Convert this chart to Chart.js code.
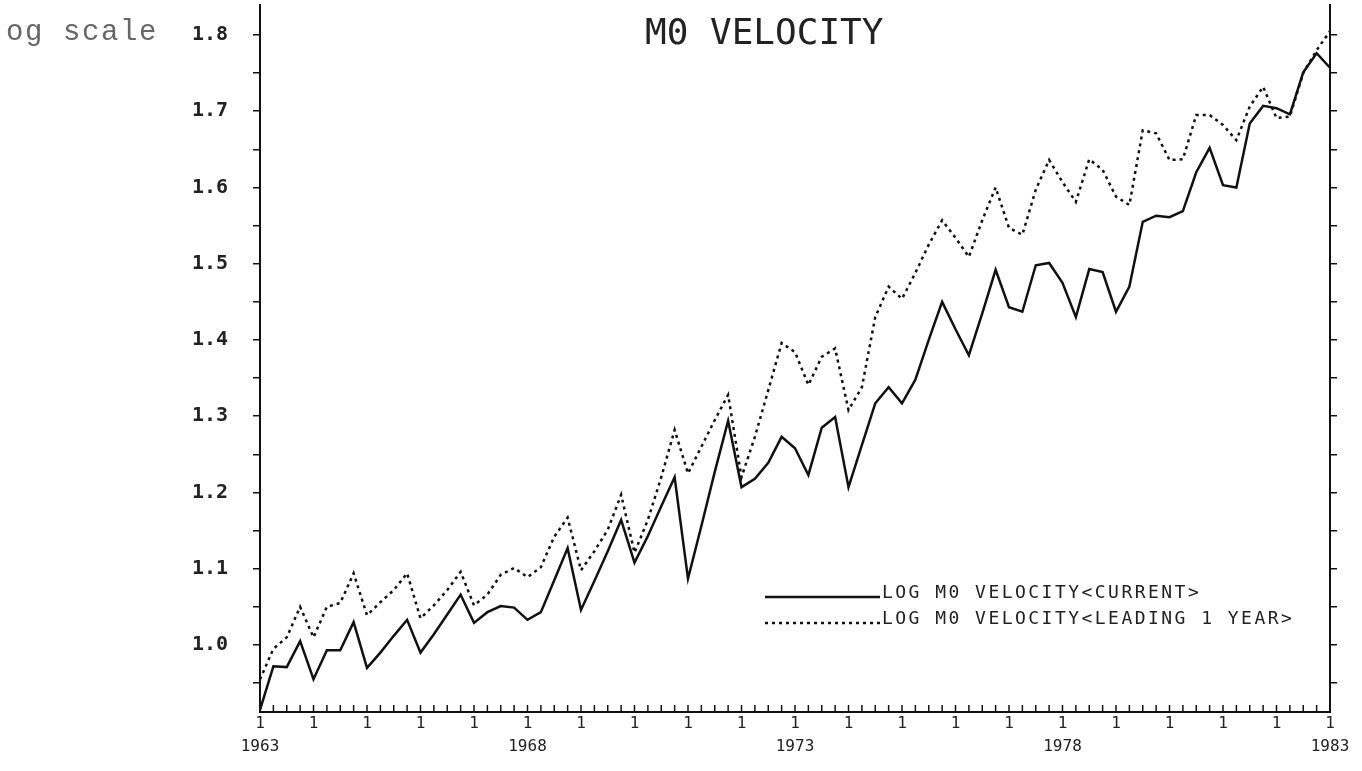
<!DOCTYPE html>
<html><head><meta charset="utf-8">
<script src="https://cdn.jsdelivr.net/npm/chart.js@4.4.0/dist/chart.umd.min.js"></script>
<style>html,body{margin:0;padding:0;background:#fff;}canvas{display:block;}</style>
</head><body>
<canvas id="c" width="1362" height="771"></canvas>
<script>
// ---- data ----
const years = [1963,1964,1965,1966,1967,1968,1969,1970,1971,1972,1973,1974,1975,1976,1977,1978,1979,1980,1981,1982,1983];
const quarters = [];
years.forEach(y => { ['Q1','Q2','Q3','Q4'].forEach(q => { if (y < 1983 || q === 'Q1') quarters.push(y + q); }); });

const currentVelocity = [
  0.915, 0.972, 0.971, 1.005,
  0.955, 0.993, 0.993, 1.030,
  0.970, 0.990, 1.012, 1.033,
  0.990, 1.014, 1.040, 1.066,
  1.029, 1.043, 1.051, 1.049,
  1.033, 1.043, 1.085, 1.127,
  1.046, 1.084, 1.123, 1.164,
  1.108, 1.143, 1.182, 1.220,
  1.087, 1.156, 1.227, 1.294,
  1.207, 1.218, 1.239, 1.273,
  1.258, 1.223, 1.285, 1.299,
  1.207, 1.262, 1.317, 1.338,
  1.317, 1.348, 1.400, 1.450,
  1.414, 1.380, 1.435, 1.492,
  1.443, 1.437, 1.498, 1.501,
  1.475, 1.430, 1.493, 1.489,
  1.437, 1.470, 1.555, 1.563,
  1.561, 1.569, 1.620, 1.652,
  1.603, 1.600, 1.684, 1.707,
  1.704, 1.696, 1.751, 1.776,
  1.757
];
const leadingVelocity = [
  0.955, 0.995, 1.010, 1.050,
  1.010, 1.050, 1.055, 1.094,
  1.039, 1.056, 1.072, 1.094,
  1.035, 1.052, 1.072, 1.096,
  1.052, 1.066, 1.092, 1.101,
  1.089, 1.102, 1.142, 1.167,
  1.098, 1.123, 1.151, 1.197,
  1.121, 1.164, 1.220, 1.282,
  1.225, 1.260, 1.295, 1.328,
  1.220, 1.273, 1.334, 1.396,
  1.384, 1.341, 1.378, 1.389,
  1.308, 1.338, 1.430, 1.470,
  1.454, 1.488, 1.525, 1.557,
  1.534, 1.509, 1.557, 1.600,
  1.547, 1.538, 1.597, 1.636,
  1.607, 1.581, 1.637, 1.623,
  1.588, 1.577, 1.675, 1.671,
  1.636, 1.637, 1.695, 1.695,
  1.682, 1.662, 1.706, 1.732,
  1.691, 1.693, 1.750, 1.780,
  1.805
];
const seriesLabels = ['LOG M0 VELOCITY<CURRENT>', 'LOG M0 VELOCITY<LEADING 1 YEAR>'];
const titleText = 'M0 VELOCITY';
const sideNote = 'og scale';
const yMin = 0.9121, yMax = 1.8393;

// ---- helpers ----
function drawSpaced(ctx, text, x, y, adv) {
  for (let i = 0; i < text.length; i++) ctx.fillText(text[i], x + i * adv, y);
}

const decor = {
  id: 'decor',
  afterDraw(chart) {
    const ctx = chart.ctx, xs = chart.scales.x, area = chart.chartArea;
    ctx.save();
    // inward quarter ticks on the x axis
    ctx.strokeStyle = '#111'; ctx.lineWidth = 1.5;
    quarters.forEach((q, i) => {
      const px = xs.getPixelForValue(i);
      ctx.beginPath(); ctx.moveTo(px, area.bottom); ctx.lineTo(px, area.bottom - 7); ctx.stroke();
    });
    // title
    ctx.fillStyle = '#222';
    ctx.font = '36px "DejaVu Sans Mono"';
    ctx.textBaseline = 'alphabetic'; ctx.textAlign = 'left';
    ctx.fillText(titleText, 645, 44);
    // side note
    ctx.fillStyle = '#666';
    ctx.font = '29px "Liberation Mono"';
    drawSpaced(ctx, sideNote, 6, 40, 19);
    // legend
    const ds = chart.data.datasets;
    const rows = [598, 624];
    ds.forEach((d, k) => {
      ctx.strokeStyle = d.borderColor; ctx.lineWidth = d.borderWidth;
      ctx.setLineDash(d.borderDash || []);
      ctx.beginPath(); ctx.moveTo(765, rows[k] - 1); ctx.lineTo(880, rows[k] - 1); ctx.stroke();
      ctx.setLineDash([]);
      ctx.fillStyle = '#222';
      ctx.font = '18px "DejaVu Sans Mono"';
      drawSpaced(ctx, d.label, 882, rows[k], 13.3);
    });
    ctx.restore();
  }
};

new Chart(document.getElementById('c'), {
  type: 'line',
  data: {
    labels: quarters,
    datasets: [
      { label: seriesLabels[0], data: currentVelocity, borderColor: '#111', borderWidth: 2.5, pointRadius: 0, tension: 0, fill: false, yAxisID: 'y' },
      { label: seriesLabels[1], data: leadingVelocity, borderColor: '#111', borderWidth: 2.5, borderDash: [3, 4], pointRadius: 0, tension: 0, fill: false, yAxisID: 'y' }
    ]
  },
  options: {
    responsive: false, animation: false, devicePixelRatio: 1,
    layout: { padding: { top: 5, left: 0, right: 0, bottom: 0 } },
    plugins: { legend: { display: false }, title: { display: false }, tooltip: { enabled: false } },
    scales: {
      x: {
        type: 'category', offset: false,
        grid: { display: true, drawOnChartArea: false, drawTicks: false },
        border: { display: true, color: '#111', width: 2 },
        ticks: {
          autoSkip: false, maxRotation: 0, minRotation: 0, padding: 1, color: '#222',
          font: { family: 'DejaVu Sans Mono', size: 16, lineHeight: 1.4 },
          callback: function(v, i) {
            const q = quarters[i];
            if (q.endsWith('Q1')) {
              const yr = q.slice(0, 4);
              return ((+yr - 1963) % 5 === 0) ? ['1', yr] : '1';
            }
            return '';
          }
        },
        afterFit(s) { s.height = 59; s.paddingLeft = 0; s.paddingRight = 0; }
      },
      y: {
        type: 'linear', position: 'left', min: yMin, max: yMax,
        grid: { drawOnChartArea: false, drawTicks: true, tickLength: 7, color: '#111', lineWidth: 1.5 },
        border: { display: true, color: '#111', width: 2 },
        ticks: {
          stepSize: 0.05, includeBounds: false, padding: 25, color: '#222',
          font: { family: 'DejaVu Sans Mono', weight: 'bold', size: 20 },
          callback: v => Math.abs(v * 10 - Math.round(v * 10)) < 1e-6 ? v.toFixed(1) : ''
        },
        afterFit(s) { s.width = 260; s.paddingTop = 0; s.paddingBottom = 0; }
      },
      y2: {
        type: 'linear', position: 'right', min: yMin, max: yMax,
        grid: { drawOnChartArea: false, drawTicks: true, tickLength: 7, color: '#111', lineWidth: 1.5 },
        border: { display: true, color: '#111', width: 2 },
        ticks: { stepSize: 0.05, includeBounds: false, callback: () => '' },
        afterFit(s) { s.width = 32; s.paddingTop = 0; s.paddingBottom = 0; }
      }
    }
  },
  plugins: [decor]
});
</script>
</body></html>
